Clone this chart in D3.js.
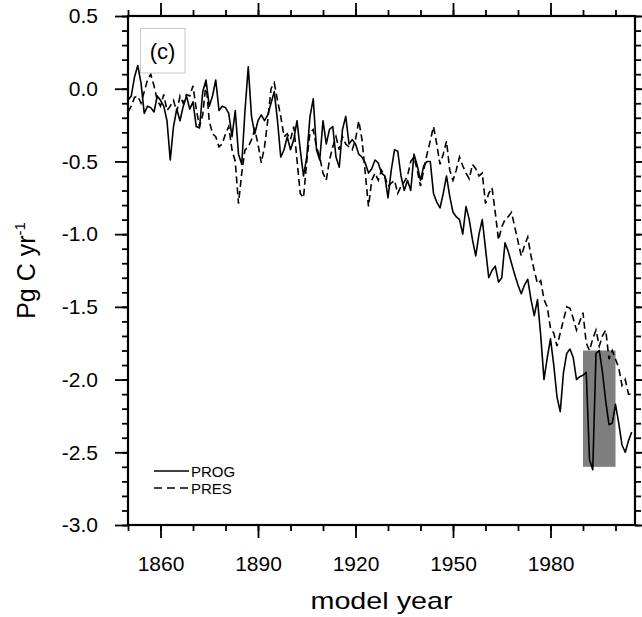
<!DOCTYPE html>
<html><head><meta charset="utf-8">
<script src="https://cdn.jsdelivr.net/npm/d3@7/dist/d3.min.js"></script>
<style>
body{margin:0;background:#fff}
svg{display:block}
text{font-family:"Liberation Sans",Arial,Helvetica,sans-serif;fill:#000}
</style>
</head><body>
<svg id="chart" width="642" height="617"></svg>
<script>
// ---- data ----
const startYear = 1850;
const prog = [
 -0.08,-0.05,0.08,0.16,0.04,-0.17,-0.12,-0.13,-0.16,-0.05,
 -0.08,-0.12,-0.22,-0.49,-0.26,-0.14,-0.22,-0.12,-0.05,-0.14,
 -0.09,-0.26,-0.27,-0.02,0.06,-0.12,-0.05,0.06,-0.15,-0.12,
 -0.13,-0.17,-0.33,-0.15,-0.45,-0.52,-0.15,0.15,-0.19,-0.31,
 -0.22,-0.18,-0.22,-0.18,-0.10,-0.02,-0.22,-0.47,-0.42,-0.33,
 -0.42,-0.35,-0.22,-0.42,-0.60,-0.47,-0.19,-0.07,-0.42,-0.49,
 -0.22,-0.38,-0.28,-0.26,-0.47,-0.54,-0.28,-0.19,-0.38,-0.35,
 -0.38,-0.45,-0.47,-0.51,-0.58,-0.55,-0.49,-0.51,-0.58,-0.60,
 -0.75,-0.56,-0.42,-0.43,-0.60,-0.70,-0.63,-0.70,-0.45,-0.53,
 -0.63,-0.53,-0.50,-0.50,-0.72,-0.78,-0.82,-0.72,-0.60,-0.74,
 -0.85,-0.88,-0.90,-1.00,-0.81,-0.90,-1.04,-1.15,-1.00,-0.90,
 -1.10,-1.30,-1.25,-1.22,-1.33,-1.30,-1.06,-1.12,-1.20,-1.28,
 -1.35,-1.41,-1.35,-1.31,-1.45,-1.56,-1.45,-1.70,-2.00,-1.85,
 -1.72,-1.90,-2.12,-2.22,-1.95,-1.82,-1.79,-1.85,-2.00,-1.98,
 -1.97,-1.95,-2.55,-2.62,-1.82,-1.80,-1.95,-2.15,-2.31,-2.30,
 -2.17,-2.30,-2.45,-2.50,-2.42,-2.36
];
const pres = [
 -0.16,-0.12,-0.06,-0.05,-0.10,-0.02,0.06,0.10,0.02,-0.08,
 -0.12,-0.04,-0.15,-0.12,-0.08,-0.16,-0.05,-0.10,-0.04,-0.05,
 0.02,-0.14,-0.26,-0.18,0.04,-0.22,-0.31,-0.33,-0.40,-0.38,
 -0.31,-0.26,-0.42,-0.50,-0.79,-0.58,-0.42,-0.40,-0.35,-0.28,
 -0.38,-0.51,-0.40,-0.22,0.00,0.04,-0.08,-0.19,-0.33,-0.31,
 -0.35,-0.26,-0.49,-0.72,-0.75,-0.50,-0.30,-0.28,-0.40,-0.47,
 -0.58,-0.63,-0.49,-0.40,-0.33,-0.42,-0.33,-0.38,-0.40,-0.42,
 -0.35,-0.22,-0.35,-0.58,-0.81,-0.63,-0.58,-0.63,-0.56,-0.60,
 -0.67,-0.65,-0.63,-0.72,-0.67,-0.64,-0.60,-0.50,-0.47,-0.56,
 -0.67,-0.56,-0.45,-0.36,-0.26,-0.38,-0.52,-0.45,-0.36,-0.56,
 -0.63,-0.56,-0.47,-0.53,-0.58,-0.62,-0.52,-0.55,-0.60,-0.58,
 -0.79,-0.72,-0.68,-0.85,-1.04,-0.95,-0.90,-0.88,-0.85,-0.95,
 -1.05,-1.15,-1.08,-1.02,-1.15,-1.25,-1.34,-1.32,-1.45,-1.50,
 -1.65,-1.68,-1.77,-1.68,-1.59,-1.50,-1.51,-1.58,-1.66,-1.60,
 -1.54,-1.75,-1.80,-1.72,-1.66,-1.77,-1.70,-1.66,-1.86,-1.80,
 -1.86,-1.92,-2.04,-2.00,-2.10,-2.10
];
const seriesNames = ["PROG", "PRES"];
const xMajorTicks = [1860, 1890, 1920, 1950, 1980];
const yMajorTicks = [0.5, 0.0, -0.5, -1.0, -1.5, -2.0, -2.5, -3.0];
const xDomain = [1850, 2006];
const yDomain = [-3.0, 0.5];
const highlightYears = [1990, 2000];
const highlightValues = [-2.6, -1.8];
const panelLabel = "(c)";

// ---- layout ----
const M = {left: 128, right: 635, top: 16, bottom: 525};
const svg = d3.select("#chart");
const x = d3.scaleLinear().domain(xDomain).range([M.left, M.right]);
const y = d3.scaleLinear().domain(yDomain).range([M.bottom, M.top]);

const xMinor = d3.range(1850, 2007, 10);
const yMinor = d3.range(-30, 6, 1).map(d => d / 10);
const fmt = d => d.toFixed(1);

// highlight rectangle
svg.append("rect")
  .attr("x", x(highlightYears[0])).attr("width", x(highlightYears[1]) - x(highlightYears[0]))
  .attr("y", y(highlightValues[1])).attr("height", y(highlightValues[0]) - y(highlightValues[1]))
  .attr("fill", "#7f7f7f");

// lines
const line = d3.line().x((d, i) => x(startYear + i)).y(d => y(d));
svg.append("path").datum(prog).attr("d", line)
  .attr("fill", "none").attr("stroke", "#000").attr("stroke-width", 1.6).attr("stroke-linejoin", "round");
svg.append("path").datum(pres).attr("d", line)
  .attr("fill", "none").attr("stroke", "#000").attr("stroke-width", 1.6).attr("stroke-dasharray", "7,4");

// axes
function styleAxis(g) {
  g.select(".domain").remove();
  g.selectAll("line").attr("stroke", "#000").attr("stroke-width", 1.8);
  g.selectAll("text").style("font-size", "21px").attr("fill", "#000");
}
const gx = svg.append("g").attr("transform", `translate(0,${M.bottom})`);
gx.append("g").call(d3.axisBottom(x).tickValues(xMinor).tickSize(6).tickFormat("")).call(styleAxis);
gx.append("g").call(d3.axisBottom(x).tickValues(xMajorTicks).tickSize(13).tickPadding(18).tickFormat(d3.format("d"))).call(styleAxis);

const gt = svg.append("g").attr("transform", `translate(0,${M.top})`);
gt.append("g").call(d3.axisTop(x).tickValues(xMinor).tickSize(6).tickFormat("")).call(styleAxis);
gt.append("g").call(d3.axisTop(x).tickValues(xMajorTicks).tickSize(13).tickFormat("")).call(styleAxis);

const gy = svg.append("g").attr("transform", `translate(${M.left},0)`);
gy.append("g").call(d3.axisLeft(y).tickValues(yMinor).tickSize(6).tickFormat("")).call(styleAxis);
gy.append("g").call(d3.axisLeft(y).tickValues(yMajorTicks).tickSize(13).tickPadding(17).tickFormat(fmt)).call(styleAxis);

const gr = svg.append("g").attr("transform", `translate(${M.right},0)`);
gr.append("g").call(d3.axisRight(y).tickValues(yMinor).tickSize(6).tickFormat("")).call(styleAxis);
gr.append("g").call(d3.axisRight(y).tickValues(yMajorTicks).tickSize(13).tickFormat("")).call(styleAxis);

// frame
svg.append("rect").attr("x", M.left).attr("y", M.top)
  .attr("width", M.right - M.left).attr("height", M.bottom - M.top)
  .attr("fill", "none").attr("stroke", "#000").attr("stroke-width", 2.2);

// panel label box
svg.append("rect").attr("x", 140.5).attr("y", 28.5).attr("width", 44.5).attr("height", 44.5)
  .attr("fill", "#fff").attr("stroke", "#c8c8c8").attr("stroke-width", 1);
svg.append("text").attr("x", 162.5).attr("y", 51).attr("text-anchor", "middle")
  .attr("dominant-baseline", "central").style("font-size", "22px").text(panelLabel);

// legend
const leg = svg.append("g");
[0, 1].forEach(i => {
  const ly = 471 + i * 17;
  leg.append("line").attr("x1", 154).attr("x2", 189).attr("y1", ly).attr("y2", ly)
    .attr("stroke", "#000").attr("stroke-width", 1.6)
    .attr("stroke-dasharray", i === 1 ? "8,5" : null);
  leg.append("text").attr("x", 191).attr("y", ly).attr("dominant-baseline", "central")
    .style("font-size", "15px").text(seriesNames[i]);
});

// axis titles
svg.append("text").attr("x", (M.left + M.right) / 2).attr("y", 609)
  .attr("text-anchor", "middle").style("font-size", "24px")
  .attr("textLength", 142).attr("lengthAdjust", "spacingAndGlyphs").text("model year");

const yt = svg.append("text")
  .attr("transform", `translate(35,${(M.top + M.bottom) / 2}) rotate(-90)`)
  .attr("text-anchor", "middle").style("font-size", "25px");
yt.append("tspan").text("Pg C yr");
yt.append("tspan").attr("dy", -10).style("font-size", "15px").text("-1");
</script>
</body></html>
